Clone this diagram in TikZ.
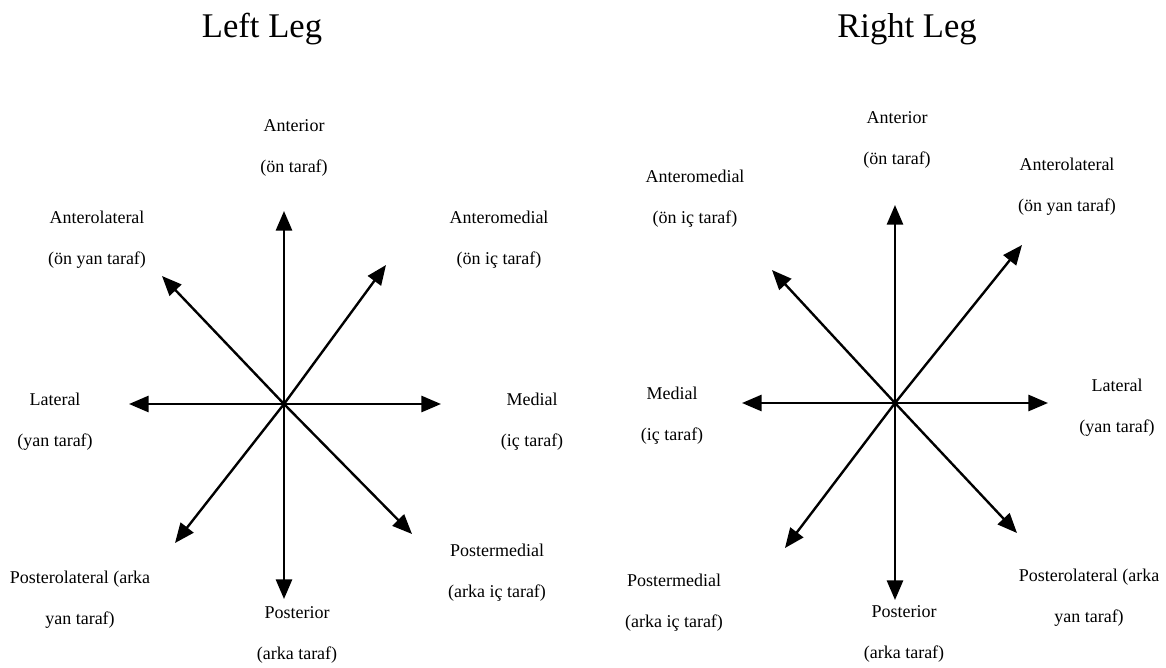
\documentclass[tikz,border=0pt]{standalone}
\usepackage{fontspec}
\setmainfont{Liberation Serif}
\usetikzlibrary{arrows.meta}
\tikzset {>={Triangle[length=14pt,width=11.5pt]}}
\tikzset {lbl/.style={align=center,font=\fontsize{12.8}{29}\selectfont},
  ttl/.style={anchor=base,font=\fontsize{24.6}{28}\selectfont},
  dir/.style={line width=1.7pt,->}}

\begin{document}
\begin{tikzpicture}[x=0.025cm,y=-0.025cm]
\useasboundingbox (0,0) rectangle (1166,667);

% left leg
\node[ttl] (lefttitle) at (262,37) {Left Leg};
\coordinate (L) at (284,404);
\coordinate (LA) at (284,211);
\coordinate (LP) at (284,599);
\coordinate (LL) at (129,404);
\coordinate (LM) at (441,404);
\coordinate (LAM) at (386,265);
\coordinate (LAL) at (162,276);
\coordinate (LPL) at (175,543);
\coordinate (LPM) at (412,534);
\draw[dir] (L) -- (LA);
\draw[dir] (L) -- (LP);
\draw[dir] (L) -- (LL);
\draw[dir] (L) -- (LM);
\draw[dir] (L) -- (LAM);
\draw[dir] (L) -- (LAL);
\draw[dir] (L) -- (LPL);
\draw[dir] (L) -- (LPM);
\node[lbl] (l-ant) at (294,148) {Anterior\\(ön taraf)};
\node[lbl] (l-antlat) at (97,240) {Anterolateral\\(ön yan taraf)};
\node[lbl] (l-antmed) at (499,240) {Anteromedial\\(ön iç taraf)};
\node[lbl] (l-lat) at (55,422) {Lateral\\(yan taraf)};
\node[lbl] (l-med) at (532,422) {Medial\\(iç taraf)};
\node[lbl] (l-postlat) at (80,600) {Posterolateral (arka\\yan taraf)};
\node[lbl] (l-postmed) at (497,573) {Postermedial\\(arka iç taraf)};
\node[lbl] (l-post) at (297,635) {Posterior\\(arka taraf)};

% right leg
\node[ttl] (righttitle) at (907,37) {Right Leg};
\coordinate (R) at (895,403);
\coordinate (RA) at (895,205);
\coordinate (RP) at (895,600);
\coordinate (RM) at (742,403);
\coordinate (RL) at (1048,403);
\coordinate (RAL) at (1022,245);
\coordinate (RAM) at (772,270);
\coordinate (RPM) at (785,548);
\coordinate (RPL) at (1017,533);
\draw[dir] (R) -- (RA);
\draw[dir] (R) -- (RP);
\draw[dir] (R) -- (RM);
\draw[dir] (R) -- (RL);
\draw[dir] (R) -- (RAL);
\draw[dir] (R) -- (RAM);
\draw[dir] (R) -- (RPM);
\draw[dir] (R) -- (RPL);
\node[lbl] (r-ant) at (897,140) {Anterior\\(ön taraf)};
\node[lbl] (r-antmed) at (695,199) {Anteromedial\\(ön iç taraf)};
\node[lbl] (r-antlat) at (1067,187) {Anterolateral\\(ön yan taraf)};
\node[lbl] (r-med) at (672,416) {Medial\\(iç taraf)};
\node[lbl] (r-lat) at (1117,408) {Lateral\\(yan taraf)};
\node[lbl] (r-postmed) at (674,603) {Postermedial\\(arka iç taraf)};
\node[lbl] (r-post) at (904,634) {Posterior\\(arka taraf)};
\node[lbl] (r-postlat) at (1089,598) {Posterolateral (arka\\yan taraf)};

\end{tikzpicture}
\end{document}
